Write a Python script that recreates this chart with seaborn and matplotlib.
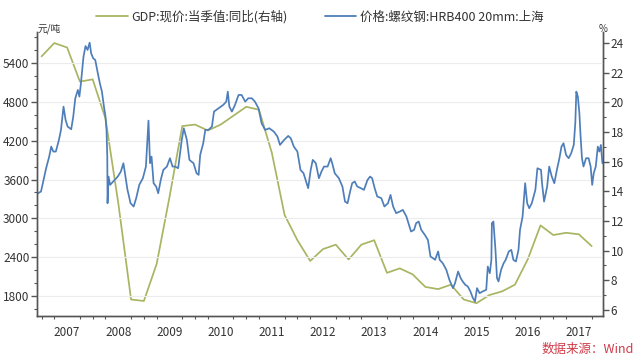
import numpy as np
import pandas as pd
import seaborn as sns
import matplotlib.pyplot as plt
import matplotlib.ticker as mticker
from matplotlib.lines import Line2D


# rebar price, Shanghai HRB400 20mm (yuan/ton), x in fractional years
steel_date = [
    2007.43, 2007.49, 2007.54, 2007.59, 2007.65, 2007.69, 2007.73, 2007.78, 2007.84, 2007.88,
    2007.93, 2007.97, 2008.01, 2008.08, 2008.12, 2008.16, 2008.21, 2008.24, 2008.27, 2008.32,
    2008.36, 2008.40, 2008.44, 2008.47, 2008.51, 2008.55, 2008.60, 2008.64, 2008.68, 2008.72,
    2008.75, 2008.77, 2008.785, 2008.79, 2008.81, 2008.84, 2008.90, 2008.99, 2009.05, 2009.10,
    2009.14, 2009.18, 2009.24, 2009.30, 2009.35, 2009.41, 2009.48, 2009.54, 2009.59, 2009.62,
    2009.65, 2009.69, 2009.74, 2009.78, 2009.83, 2009.88, 2009.95, 2010.01, 2010.06, 2010.11,
    2010.17, 2010.24, 2010.28, 2010.34, 2010.39, 2010.47, 2010.53, 2010.57, 2010.60, 2010.66,
    2010.70, 2010.76, 2010.83, 2010.87, 2010.96, 2011.05, 2011.11, 2011.14, 2011.17, 2011.22,
    2011.28, 2011.35, 2011.41, 2011.48, 2011.54, 2011.61, 2011.67, 2011.74, 2011.80, 2011.87,
    2011.95, 2012.04, 2012.11, 2012.16, 2012.24, 2012.32, 2012.37, 2012.43, 2012.50, 2012.56,
    2012.62, 2012.66, 2012.71, 2012.76, 2012.80, 2012.86, 2012.92, 2012.97, 2013.02, 2013.09,
    2013.15, 2013.18, 2013.23, 2013.31, 2013.38, 2013.43, 2013.48, 2013.53, 2013.57, 2013.62,
    2013.67, 2013.74, 2013.80, 2013.87, 2013.92, 2013.96, 2014.01, 2014.06, 2014.14, 2014.20,
    2014.27, 2014.32, 2014.37, 2014.43, 2014.50, 2014.56, 2014.63, 2014.69, 2014.72, 2014.78,
    2014.82, 2014.87, 2014.92, 2014.99, 2015.05, 2015.10, 2015.15, 2015.19, 2015.25, 2015.28,
    2015.34, 2015.41, 2015.47, 2015.54, 2015.58, 2015.64, 2015.69, 2015.73, 2015.78, 2015.83,
    2015.88, 2015.93, 2015.97, 2016.01, 2016.06, 2016.12, 2016.19, 2016.22, 2016.26, 2016.29,
    2016.30, 2016.33, 2016.37, 2016.40, 2016.43, 2016.48, 2016.53, 2016.57, 2016.63, 2016.68,
    2016.72, 2016.77, 2016.82, 2016.85, 2016.90, 2016.95, 2016.99, 2017.03, 2017.08, 2017.15,
    2017.19, 2017.26, 2017.28, 2017.32, 2017.38, 2017.42, 2017.47, 2017.52, 2017.57, 2017.62,
    2017.66, 2017.70, 2017.75, 2017.80, 2017.85, 2017.90, 2017.93, 2017.95, 2017.98, 2018.01,
    2018.03, 2018.06, 2018.09, 2018.14, 2018.19, 2018.23, 2018.26, 2018.29, 2018.33, 2018.37,
    2018.40, 2018.43, 2018.46,
]
steel_price = [
    3387, 3414, 3594, 3775, 3955, 4110, 4033, 4033, 4213, 4368,
    4729, 4523, 4420, 4378, 4574, 4858, 4987, 4884, 5090, 5502,
    5667, 5606, 5719, 5554, 5477, 5451, 5245, 5090, 4961, 4729,
    4574, 4368, 3955, 3233, 3646, 3517, 3569, 3646, 3723, 3852,
    3646, 3440, 3233, 3182, 3311, 3517, 3620, 3801, 4512, 3852,
    3955, 3543, 3491, 3388, 3594, 3749, 3801, 3930, 3801, 3801,
    3775, 4213, 4394, 4213, 3904, 3852, 3697, 3672, 3981, 4162,
    4368, 4368, 4420, 4652, 4703, 4755, 4806, 4961, 4729, 4652,
    4755, 4909, 4909, 4806, 4858, 4858, 4806, 4703, 4471, 4368,
    4394, 4342, 4265, 4136, 4213, 4275, 4239, 4110, 4033, 3749,
    3697, 3594, 3466, 3749, 3904, 3852, 3620, 3723, 3801, 3801,
    3930, 3852, 3697, 3620, 3491, 3259, 3233, 3414, 3543, 3569,
    3491, 3466, 3440, 3594, 3646, 3620, 3466, 3337, 3311, 3182,
    3233, 3362, 3182, 3079, 3104, 3130, 3027, 2872, 2795, 2821,
    2924, 2950, 2821, 2743, 2666, 2408, 2382, 2357, 2486, 2357,
    2305, 2202, 2047, 1918, 1996, 2176, 2073, 2022, 1970, 1944,
    1867, 1764, 1712, 1918, 1841, 1867, 1893, 2253, 2150, 2357,
    2924, 2950, 2511, 2073, 2022, 2202, 2305, 2357, 2486, 2511,
    2357, 2331, 2511, 2821, 3027, 3543, 3233, 3156, 3233, 3440,
    3775, 3749, 3543, 3259, 3491, 3801, 3646, 3543, 3749, 3930,
    4110, 4162, 3981, 3930, 4007, 4136, 4471, 4961, 4884, 4626,
    4316, 3930, 3801, 3930, 3930, 3801, 3517, 3697, 3801, 4110,
    4033, 4136, 3852,
]

# nominal GDP, quarterly y/y (%), plotted at quarter end
gdp_date = list(np.arange(2007.5, 2018.26, 0.25))
gdp_yoy = [
    23.1, 24.0, 23.7,
    21.4, 21.55, 18.9, 13.2,
    6.7, 6.6, 9.1, 13.6,
    18.4, 18.5, 18.1, 18.5,
    19.1, 19.7, 19.5, 16.6,
    12.4, 10.7, 9.3, 10.1,
    10.4, 9.4, 10.4, 10.7,
    8.5, 8.8, 8.4, 7.55,
    7.4, 7.7, 6.7, 6.45,
    7.0, 7.25, 7.7, 9.4,
    11.7, 11.05, 11.2, 11.1,
    10.3,
]

year_labels = list(range(2007, 2018))

GREEN = "#a9b562"
BLUE = "#4e7eba"
TEXT = "#333333"
SPINE = "#555555"

sns.set_theme(style="white")
plt.rcParams['font.family'] = ['Noto Sans CJK SC', 'DejaVu Sans']
plt.rcParams['axes.unicode_minus'] = False

steel = pd.DataFrame({"date": steel_date, "price": steel_price})
gdp = pd.DataFrame({"date": gdp_date, "yoy": gdp_yoy})

fig = plt.figure(figsize=(6.4, 3.63), dpi=100)
ax = fig.add_axes([0.058, 0.13, 0.884, 0.782])
ax2 = ax.twinx()

sns.lineplot(data=steel, x="date", y="price", ax=ax, color=BLUE, linewidth=1.25)
sns.lineplot(data=gdp, x="date", y="yoy", ax=ax2, color=GREEN, linewidth=1.25)
ax.set_zorder(ax2.get_zorder() + 1)
ax.patch.set_visible(False)

ax.set_xlim(2007.414, 2018.469)
ax.set_ylim(1490, 5885)
ax2.set_ylim(5.6, 24.75)

# Wind puts the year label at the year's end
ax.set_xticks([y + 1 for y in year_labels])
ax.set_xticklabels([str(y) for y in year_labels])
ax.xaxis.set_minor_locator(mticker.MultipleLocator(0.25))
ax.set_yticks(np.arange(1800, 5401, 600))
ax.yaxis.set_minor_locator(mticker.MultipleLocator(200))
ax2.set_yticks(np.arange(6, 25, 2))
ax2.yaxis.set_minor_locator(mticker.MultipleLocator(1))

ax.set_xlabel("")
ax.set_ylabel("")
ax2.set_ylabel("")

ax.yaxis.grid(True, color="#ececec", linewidth=0.8)
ax.set_axisbelow(True)

for a in (ax, ax2):
    a.spines["top"].set_visible(False)
    for s in ("left", "right", "bottom"):
        a.spines[s].set_color(SPINE)
        a.spines[s].set_linewidth(1.0)
    a.tick_params(which="major", direction="out", length=4, width=1, color=SPINE,
                  labelsize=8.5, labelcolor=TEXT, pad=1.5)
    a.tick_params(which="minor", direction="out", length=2.5, width=0.8, color=SPINE)
ax.tick_params(axis="x", which="major", length=5, pad=2)
ax.tick_params(axis="x", which="minor", bottom=True)
ax.tick_params(axis="y", which="minor", left=True)
ax2.tick_params(axis="y", which="minor", right=True)

fig.text(0.058, 0.905, "元/吨", fontsize=7, color=TEXT, ha="left", va="bottom")
fig.text(0.935, 0.905, "%", fontsize=7, color=TEXT, ha="left", va="bottom")
fig.text(0.99, 0.02, "数据来源：Wind", fontsize=9, color="#d03a48",
         ha="right", va="bottom", style="italic")

handles = [Line2D([], [], color=GREEN, linewidth=1.3),
           Line2D([], [], color=BLUE, linewidth=1.3)]
labels = ["GDP:现价:当季值:同比(右轴)", "价格:螺纹钢:HRB400 20mm:上海"]
fig.legend(handles, labels, loc="center", bbox_to_anchor=(0.5, 0.953), ncol=2,
           frameon=False, fontsize=9, handlelength=2.5, handletextpad=0.3,
           columnspacing=3.0, labelcolor=TEXT)

fig.savefig("out.png", dpi=100)
